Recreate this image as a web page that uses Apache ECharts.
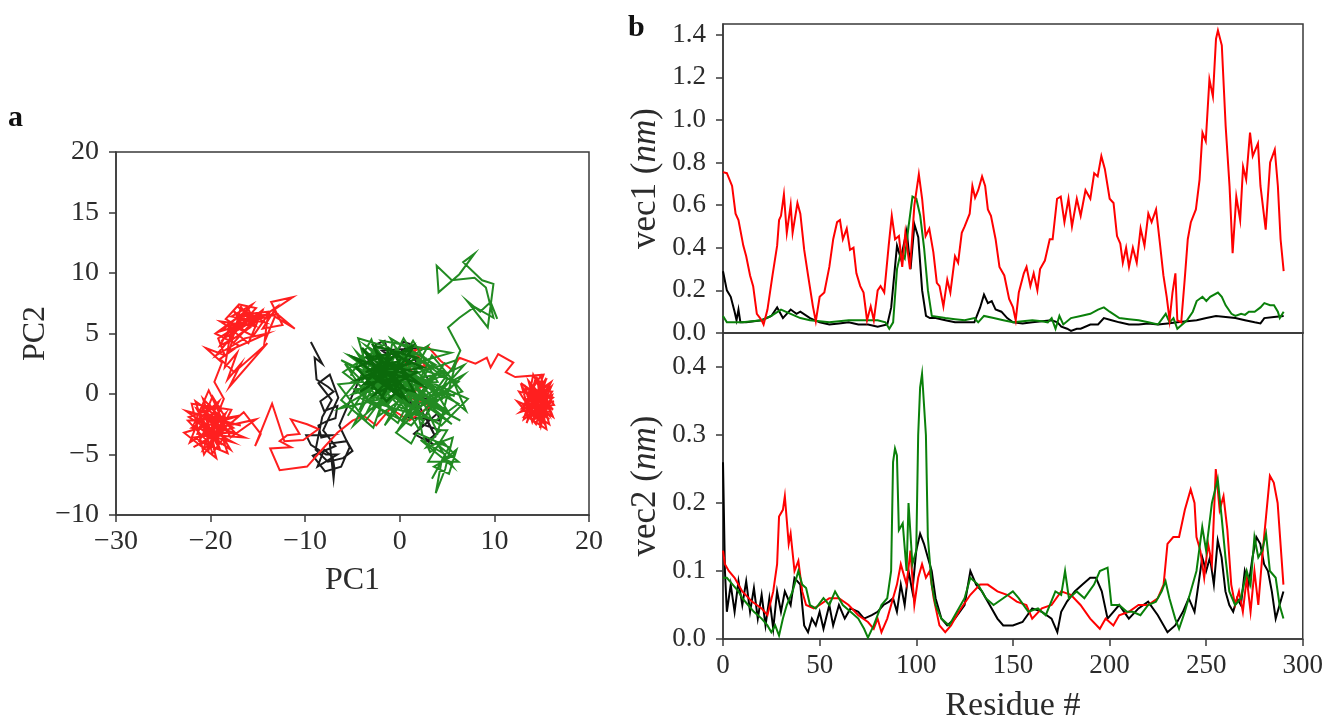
<!DOCTYPE html>
<html>
<head>
<meta charset="utf-8">
<script src="https://cdn.jsdelivr.net/npm/echarts@6/dist/echarts.min.js"></script>
<style>
  html, body { margin: 0; padding: 0; background: #fff; }
  #main { width: 1326px; height: 724px; }
</style>
</head>
<body>
<div id="main"></div>
<script>
// panel a : PC1 / PC2 trajectories, [pc1, pc2]
const pcaRed = [
  [15.0,-0.7],[13.8,0.9],[15.9,-1.4],[14.2,-2.1],[16.1,0.2],[13.1,0.4],[15.4,-2.6],[14.6,1.2],[16.3,-0.9],[12.9,-1.2],
  [15.2,0.8],[14.0,-1.0],[15.8,-2.1],[13.5,-0.2],[14.9,1.5],[16.0,-1.8],[12.4,-0.6],[14.4,-2.5],[15.6,0.5],[13.2,-1.8],
  [15.1,-1.2],[14.3,0.3],[16.2,-0.3],[13.7,-2.0],[15.5,-2.9],[14.8,-0.2],[12.8,0.9],[15.7,-1.0],[14.1,1.6],[13.4,-1.3],
  [16.0,0.6],[14.7,-1.7],[15.3,1.1],[13.9,-0.5],[14.5,-1.4],[15.9,0.9],[13.0,-0.9],[15.2,-2.4],[14.0,0.6],[16.2,-1.3],
  [13.6,1.1],[14.9,-2.7],[15.6,-0.4],[12.6,0.2],[14.3,-1.9],[16.0,1.0],[13.3,-0.5],[15.0,-1.6],[14.6,0.9],[15.8,-2.5],
  [13.9,-1.5],[16.3,-0.6],[12.7,-1.5],[15.4,0.2],[14.2,-0.1],[15.1,-2.2],[13.5,0.5],[15.9,-1.1],[14.4,1.4],[13.1,-2.1],
  [15.3,-0.9],[14.8,-2.8],[16.1,-0.1],[13.8,-1.1],[15.5,1.3],[14.0,-2.3],[12.9,0.6],[15.7,-1.7],[14.5,0.2],[13.4,-2.4],
  [15.0,0.5],[16.2,-1.9],[14.1,-0.8],[15.2,1.6],[12.2,1.4],
  [11.2,1.8],[12.0,2.6],[10.4,3.3],[9.6,2.2],[9.2,3.0],[8.0,2.5],[6.3,3.0],[5.5,2.0],[4.3,2.75],[3.0,3.9],
  [1.5,3.6],[2.8,2.2],[0.5,2.8],[2.3,0.6],[0.8,-0.2],[3.2,-1.0],[1.0,-2.2],[-1.0,-1.2],[-2.5,-2.6],[-3.8,-1.8],
  [-5.0,-2.2],[-6.6,-3.2],[-8.0,-4.4],[-9.8,-6.0],[-12.7,-6.3],[-13.7,-4.5],[-11.5,-4.4],[-12.7,-3.9],[-11.9,-3.4],[-10.6,-3.3],
  [-11.5,-2.1],[-9.8,-2.5],[-8.6,-2.9],[-10.2,-3.8],[-12.2,-3.9],[-13.5,-0.8],[-15.3,-4.3],[-14.7,-3.3],[-16.5,-1.5],
  [-18.0,-2.5],[-21.5,-1.2],[-19.0,-4.6],[-20.8,-0.4],[-17.3,-3.3],[-22.0,-2.8],[-19.6,-1.5],[-18.2,-4.9],[-21.2,-3.9],[-20.1,-2.2],
  [-17.0,-1.8],[-22.8,-3.2],[-19.4,-5.3],[-20.6,-1.6],[-18.6,-3.0],[-21.8,-4.4],[-19.9,-3.5],[-17.6,-4.0],[-20.9,-2.6],[-22.3,-1.9],
  [-18.9,-1.0],[-20.3,-4.8],[-19.2,-2.7],[-16.4,-3.6],[-21.4,-3.3],[-19.8,-0.2],[-18.4,-2.0],[-20.7,-5.0],[-22.0,-0.8],[-17.8,-1.3],
  [-19.5,-3.9],[-21.0,-2.0],[-18.8,-4.2],[-20.4,-3.0],[-15.2,-2.1],[-17.9,-3.6],[-20.2,0.3],[-21.7,-2.4],[-19.1,-0.6],
  [-21.0,-3.6],[-18.4,-1.6],[-20.0,-4.2],[-22.4,-2.2],[-19.0,-2.0],[-20.6,-3.4],[-17.6,-2.8],[-21.6,-0.6],[-19.8,-4.9],[-18.6,-3.6],
  [-20.8,-1.2],[-22.2,-4.0],[-19.4,-2.6],[-17.9,-4.6],[-21.2,-2.8],[-20.0,-1.0],[-18.2,-3.2],[-21.8,-3.6],[-19.6,-4.4],[-20.4,-2.0],
  [-16.8,-2.6],[-22.6,-1.4],[-19.0,-3.4],[-20.8,-4.6],[-18.6,-0.4],
  [-19.6,1.0],[-18.8,2.6],[-20.5,3.8],[-18.5,3.2],[-19.2,4.6],[-17.2,5.6],[-18.9,5.2],[-16.4,6.8],[-18.1,4.3],[-15.8,5.5],
  [-17.6,6.9],[-16.9,6.1],[-14.8,6.3],[-16.3,5.2],[-18.4,6.2],[-17.0,7.4],[-15.2,7.1],[-16.6,5.9],[-13.9,6.6],[-15.5,4.8],
  [-17.8,5.7],[-19.0,4.0],[-17.3,4.7],[-15.0,6.1],[-13.0,7.2],[-14.5,5.4],[-12.4,5.7],[-13.6,7.6],[-11.3,8.0],[-13.4,6.9],
  [-11.1,5.4],[-13.2,6.4],[-14.3,4.3],[-13.9,6.8],[-16.2,6.6],[-17.9,5.0],[-18.5,2.2],[-17.2,3.4],[-18.2,1.2],[-16.8,2.5],
  [-18.0,0.6],[-14.0,4.2],[-17.5,1.8],[-19.0,2.9],[-17.0,4.0],[-19.5,5.0],[-16.0,7.0],[-15.5,6.2],[-17.1,7.2],[-14.2,5.9],
  [-17.8,6.4],[-15.6,7.4],[-18.6,4.6],[-16.0,5.8],[-14.4,7.0],[-17.4,5.2],[-19.0,6.0],[-15.2,5.6],[-16.8,7.2],[-18.0,3.6],
  [-14.0,5.0],[-16.4,4.6],[-19.4,3.2],[-15.8,6.6],[-17.2,6.4],[-12.8,6.6],[-18.2,5.6],[-16.0,4.2],[-14.6,6.8],[-17.6,4.2]
];
const pcaBlack = [
  [-9.4,4.3],[-8.2,2.5],[-9.0,3.0],[-8.8,1.2],[-7.6,0.6],[-7.0,0.2],[-8.4,-0.6],[-8.0,-1.4],[-6.6,-1.0],[-6.8,-2.0],
  [-7.6,-2.2],[-8.6,-2.6],[-8.3,-3.6],[-7.2,-3.4],[-9.9,-3.4],[-9.4,-4.2],[-7.8,-5.0],[-6.6,-5.0],[-8.7,-6.0],[-8.0,-4.6],
  [-7.1,-5.2],[-6.9,-6.2],[-7.0,-7.0],[-7.4,-4.1],[-5.6,-3.9],[-5.0,-4.7],[-6.0,-5.3],[-7.6,-5.6],[-8.9,-4.6],[-8.2,-1.9],
  [-7.2,-0.5],[-8.6,0.9],[-7.4,1.6],[-6.5,-0.3],[-8.1,-3.0],[-6.8,-4.3],[-9.2,-5.1],[-7.9,-6.4],[-6.2,-6.0],[-5.3,-4.4],
  [-6.4,-2.6],[-5.8,-1.5],[-4.5,0.8],[-2.5,4.1],[-1.6,4.4],[-1.0,2.8],[0.0,3.9],[0.4,4.3],[1.2,4.1],[-0.8,3.0],
  [-1.9,3.6],[1.8,3.8],[0.6,2.4],[2.3,2.2],[1.0,3.5],[3.1,1.1],[2.0,-0.2],[3.5,-0.6],[2.3,-2.5],[4.3,-3.0],
  [3.0,-3.8],[2.6,-3.6],[3.6,-4.2],[1.5,-3.3],[4.0,-1.6],[4.2,-2.2],[0.7,-1.9],[1.9,-0.3],[-1.5,1.2],[-3.0,2.5],
  [-0.4,0.5],[2.8,-2.0],[3.8,-3.6],[2.2,-1.2],[0.4,1.6]
];
const pcaGreen = [
  [-5.2,1.5],[-3.0,4.5],[-1.5,1.0],[-4.2,-1.2],[-2.0,3.2],[0.5,0.2],[-3.5,2.0],[-6.2,-0.5],[-2.8,-2.8],[-0.5,2.5],
  [1.8,-1.5],[-4.6,3.5],[-1.2,-0.8],[2.5,2.8],[-3.8,0.2],[-5.8,2.5],[0.2,-2.2],[3.5,1.5],[-2.2,-1.8],[-0.8,4.2],
  [4.5,-0.5],[1.2,1.8],[-4.9,-2.6],[-1.8,2.2],[2.0,-2.9],[5.0,1.2],[0.8,3.6],[-3.2,-0.6],[3.8,-2.2],[6.2,-0.8],
  [2.8,0.6],[-0.2,-3.0],[4.8,2.6],[1.5,-0.6],[6.8,1.6],[3.2,-1.2],[5.5,-2.5],[0.0,1.2],[-2.5,3.8],[-4.0,1.0],
  [-6.5,0.8],[-3.6,-2.2],[-1.0,0.5],[1.0,-1.8],[4.2,0.4],[7.0,-1.4],[5.8,0.8],[2.2,3.3],[-1.4,3.0],[-5.5,-1.8],
  [-2.6,1.6],[0.6,-0.8],[3.0,2.0],[6.0,2.8],[4.0,-3.2],[1.6,0.8],[-0.6,-1.5],[-3.0,0.8],[-4.4,4.6],[-1.8,4.0],
  [-6.0,1.8],[-2.4,-0.4],[1.4,4.4],[4.0,1.0],[-4.8,0.4],[-0.2,-2.4],[3.4,3.2],[6.6,0.2],[2.0,-1.0],[-5.4,3.2],
  [-1.2,2.0],[5.2,-1.6],[0.4,4.6],[-3.4,-1.4],[2.6,1.2],[7.2,-0.4],[4.4,-2.6],[-0.8,-0.2],[-6.4,-1.2],[1.8,2.6],
  [5.4,3.4],[-2.0,4.4],[3.6,-0.4],[0.2,-1.2],[-4.4,2.6],[6.4,-2.2],[1.0,0.0],[-1.6,-2.6],[3.0,4.0],[-5.0,0.0],
  [4.8,1.8],[-0.4,3.6],[2.4,-2.2],[-3.0,3.2],[5.8,-0.2],[0.6,1.8],[-2.8,-1.2],[6.8,2.4],[1.2,-2.6],[-4.0,-0.4],
  [3.8,2.4],[-1.0,4.6],[2.0,0.4],[4.6,-1.2],[-6.2,2.8],[0.8,-0.4],[5.0,0.0],[-3.6,4.0],[2.8,-0.8],[6.2,1.0],
  [0.9,2.4],[2.4,-3.4],[3.2,-4.8],[4.6,-4.0],[5.8,-5.0],[3.6,-6.0],[5.2,-6.6],[6.0,-4.6],[4.4,-5.6],[3.8,-8.2],
  [4.8,-6.2],[5.6,-3.6],[2.8,-4.4],[4.2,-3.0],[5.0,-3.0],[3.0,-5.6],[6.2,-5.6],[4.0,-4.2],[5.6,-6.0],[2.2,-3.8],
  [4.8,-5.0],[3.4,-7.0],[5.2,-4.4],[1.8,-3.2],[1.2,-4.1],[-0.4,-3.2],[3.5,0.0],[5.6,2.2],[6.4,3.6],[5.1,5.5],
  [6.3,6.3],[7.9,7.2],[9.9,6.3],[9.1,8.8],[7.9,9.6],[5.5,9.4],[3.9,10.6],[4.1,8.4],[6.3,9.9],[7.9,11.6],
  [6.7,10.9],[8.7,9.4],[9.9,9.1],[9.3,5.5],[7.1,7.7],[8.5,6.8],[9.6,7.6],[10.3,6.2]
];
const pcaGreenCore = [
  [-3.0,2.5],[-1.0,0.5],[-2.5,3.5],[0.5,1.5],[-3.8,0.8],[-0.5,3.2],[1.5,0.2],[-2.0,1.0],[-1.2,3.8],[1.0,2.5],
  [-3.2,1.6],[0.0,-0.2],[-1.6,2.4],[1.8,1.8],[-2.6,0.0],[-0.4,1.8],[1.2,3.6],[-3.5,3.0],[0.3,0.6],[-1.4,-0.6],
  [-4.6,2.2],[-2.2,3.0],[0.8,0.2],[-4.0,3.8],[-1.8,1.4],[-4.2,0.2],[1.8,3.0],[-2.8,4.0],[0.6,-0.4],[-4.8,3.0],
  [2.2,0.8],[-0.8,2.6],[-3.6,1.8],[1.4,4.0],[-2.0,-0.4],[0.0,2.8],[-4.4,1.2],[2.4,2.2],[-1.0,3.4],[-3.0,0.4]
];

// panel b : eigenvector components per residue, [residue, nm]
const vec1Red = [
  [0,0.755],[2,0.75],[4.7,0.69],[6.5,0.56],[8,0.53],[10.5,0.41],[12,0.36],[14,0.27],[15.6,0.22],[17.5,0.09],
  [20,0.06],[21,0.04],[23,0.11],[25.6,0.27],[28,0.41],[29,0.53],[30,0.55],[31.5,0.65],[33,0.47],[35,0.60],
  [36,0.47],[38.5,0.61],[40,0.56],[42,0.39],[44,0.27],[46.5,0.125],[48,0.055],[50,0.17],[52.4,0.19],[55,0.31],
  [57,0.44],[59,0.52],[60.5,0.53],[62,0.44],[64,0.49],[65.7,0.39],[67.5,0.40],[69,0.28],[71,0.22],[72.7,0.19],
  [74.5,0.06],[76.4,0.125],[78,0.06],[80,0.20],[81.5,0.22],[83.4,0.19],[85.7,0.41],[87.3,0.55],[89,0.44],[91,0.455],
  [92.7,0.31],[94.3,0.47],[96.7,0.30],[99,0.60],[101.3,0.745],[103,0.63],[104.8,0.455],[106.7,0.49],[108.8,0.38],[110.6,0.235],
  [112,0.22],[114,0.125],[116,0.25],[117.6,0.19],[120,0.36],[121.6,0.33],[123.5,0.47],[125,0.50],[127.6,0.56],[129,0.69],
  [130.4,0.635],[132,0.67],[134,0.735],[135.6,0.69],[137,0.58],[138.6,0.55],[141,0.44],[143,0.31],[145.5,0.27],[148,0.16],
  [150,0.12],[151.4,0.06],[153,0.19],[155.6,0.28],[157,0.31],[159,0.22],[160.7,0.28],[162.6,0.20],[164,0.30],[166.5,0.34],
  [169,0.44],[170.5,0.44],[172.8,0.63],[174.7,0.64],[176.6,0.52],[178.7,0.63],[180.5,0.50],[183,0.63],[185,0.55],[187.5,0.67],
  [190,0.63],[192,0.75],[193.8,0.735],[195.7,0.83],[197.5,0.77],[200,0.63],[202,0.61],[203.8,0.455],[205.5,0.42],[206.8,0.33],
  [208.5,0.40],[210,0.31],[212,0.40],[214,0.33],[216,0.49],[218,0.41],[220,0.56],[221.7,0.52],[224,0.58],[226,0.42],
  [227.8,0.27],[229.5,0.17],[231,0.06],[232.5,0.19],[234,0.28],[235,0.06],[237,0.05],[238.8,0.25],[240.4,0.44],[242,0.52],
  [244.6,0.58],[246.5,0.72],[248,0.94],[249.7,0.90],[251.6,1.19],[253.4,1.11],[255,1.38],[256,1.42],[258,1.35],[260,0.97],
  [262,0.69],[263.6,0.375],[265.5,0.64],[267.5,0.53],[269,0.78],[270.6,0.72],[272.6,0.94],[274,0.83],[276.7,0.89],[278,0.69],
  [280.7,0.485],[283,0.80],[285.4,0.86],[287,0.69],[288.4,0.44],[290,0.29]
];
const vec1Black = [
  [0,0.29],[2,0.2],[4,0.17],[6,0.1],[7,0.06],[8,0.11],[9,0.05],[12,0.05],[16,0.055],[20,0.06],
  [25,0.08],[28,0.12],[31,0.07],[35,0.11],[38,0.09],[40,0.1],[45,0.07],[50,0.05],[55,0.04],[60,0.045],
  [65,0.05],[70,0.04],[75,0.04],[80,0.03],[85,0.04],[87,0.12],[90,0.41],[92,0.35],[95,0.48],[97,0.30],
  [99,0.51],[101,0.45],[103,0.2],[105,0.08],[107,0.07],[110,0.07],[115,0.06],[120,0.05],[125,0.05],[130,0.05],
  [133,0.12],[135,0.18],[137,0.14],[139,0.15],[141,0.11],[144,0.1],[147,0.07],[150,0.05],[155,0.045],[160,0.05],
  [165,0.055],[170,0.06],[173,0.05],[175,0.03],[178,0.02],[180,0.01],[183,0.02],[185,0.02],[190,0.04],[194,0.04],
  [197,0.07],[201,0.06],[205,0.05],[210,0.04],[215,0.04],[220,0.045],[225,0.04],[230,0.045],[235,0.05],[240,0.055],
  [245,0.06],[250,0.07],[255,0.08],[260,0.075],[265,0.07],[270,0.06],[275,0.05],[278,0.045],[280,0.07],[285,0.075],[290,0.08]
];
const vec1Green = [
  [0,0.08],[2,0.05],[6,0.05],[10,0.05],[15,0.055],[20,0.06],[25,0.08],[30,0.11],[35,0.09],[40,0.07],
  [45,0.06],[50,0.055],[55,0.05],[60,0.055],[65,0.06],[70,0.06],[75,0.06],[80,0.06],[84,0.05],[86,0.02],
  [88,0.05],[90,0.3],[92,0.38],[94,0.35],[96,0.5],[98,0.64],[100,0.63],[102,0.55],[104,0.4],[106,0.2],
  [108,0.08],[115,0.07],[120,0.065],[125,0.06],[130,0.07],[132,0.05],[135,0.08],[140,0.07],[145,0.06],[150,0.05],
  [155,0.055],[160,0.06],[165,0.055],[168,0.05],[170,0.07],[172,0.02],[174,0.08],[176,0.04],[180,0.07],[185,0.08],
  [190,0.09],[194,0.11],[197,0.12],[200,0.1],[205,0.07],[210,0.065],[215,0.06],[220,0.05],[225,0.04],[229,0.09],
  [231,0.05],[233,0.07],[235,0.02],[240,0.06],[243,0.1],[245,0.15],[248,0.17],[250,0.15],[252,0.17],[256,0.19],
  [258,0.17],[260,0.13],[263,0.09],[265,0.08],[268,0.09],[270,0.085],[272,0.1],[275,0.1],[278,0.12],[280,0.14],
  [283,0.13],[285,0.13],[287,0.1],[288,0.07],[290,0.1]
];
const vec2Red = [
  [0,0.13],[1,0.11],[3,0.1],[6,0.09],[10,0.07],[15,0.055],[20,0.045],[23,0.035],[26,0.07],[28,0.11],
  [29,0.18],[31,0.19],[32,0.21],[34,0.14],[35,0.155],[37,0.10],[39,0.115],[41,0.07],[43,0.05],[47,0.045],
  [50,0.05],[55,0.06],[60,0.06],[65,0.05],[70,0.035],[75,0.025],[78,0.015],[80,0.03],[82,0.01],[85,0.03],
  [87,0.05],[90,0.08],[92,0.11],[95,0.08],[97,0.13],[99,0.05],[101,0.09],[103,0.11],[105,0.09],[107,0.1],
  [109,0.06],[112,0.02],[115,0.01],[118,0.02],[122,0.04],[128,0.065],[133,0.08],[137,0.08],[142,0.07],[147,0.065],
  [152,0.055],[157,0.05],[160,0.03],[165,0.045],[170,0.05],[175,0.07],[180,0.065],[185,0.05],[190,0.03],[195,0.015],
  [198,0.03],[202,0.02],[205,0.035],[210,0.04],[215,0.05],[220,0.05],[225,0.06],[228,0.08],[230,0.14],[233,0.15],
  [236,0.15],[239,0.19],[242,0.22],[244,0.2],[245,0.15],[247,0.13],[249,0.09],[251,0.14],[253,0.11],[255,0.25],
  [257,0.19],[259,0.21],[261,0.16],[263,0.08],[265,0.05],[267,0.07],[269,0.04],[271,0.09],[273,0.04],[275,0.1],
  [277,0.05],[279,0.12],[281,0.18],[283,0.24],[285,0.23],[287,0.2],[289,0.12],[290,0.08]
];
const vec2Black = [
  [0,0.26],[1,0.1],[2,0.04],[4,0.08],[6,0.04],[8,0.085],[10,0.05],[12,0.085],[14,0.04],[16,0.075],
  [18,0.03],[20,0.065],[22,0.02],[24,0.06],[26,0.015],[28,0.07],[30,0.04],[32,0.07],[35,0.05],[37,0.09],
  [40,0.08],[42,0.02],[44,0.01],[46,0.03],[48,0.02],[50,0.04],[52,0.015],[55,0.05],[57,0.02],[60,0.05],
  [63,0.03],[66,0.045],[70,0.04],[73,0.03],[77,0.035],[80,0.04],[83,0.05],[86,0.055],[88,0.06],[90,0.04],
  [92,0.08],[94,0.05],[96,0.1],[98,0.07],[100,0.13],[102,0.155],[104,0.14],[106,0.12],[108,0.1],[110,0.06],
  [113,0.03],[116,0.02],[120,0.03],[125,0.05],[128,0.1],[131,0.08],[134,0.07],[138,0.05],[142,0.03],[145,0.02],
  [150,0.02],[155,0.025],[160,0.045],[165,0.04],[170,0.03],[173,0.01],[175,0.04],[178,0.055],[182,0.07],[186,0.08],
  [190,0.09],[193,0.09],[196,0.07],[199,0.03],[202,0.04],[205,0.05],[210,0.03],[215,0.045],[220,0.055],[225,0.035],
  [230,0.01],[234,0.02],[238,0.04],[241,0.06],[244,0.04],[246,0.08],[248,0.12],[250,0.1],[252,0.12],[254,0.08],
  [256,0.145],[258,0.12],[260,0.07],[262,0.05],[264,0.04],[266,0.06],[268,0.05],[270,0.1],[272,0.08],[274,0.12],
  [276,0.15],[278,0.14],[280,0.11],[282,0.1],[284,0.07],[286,0.03],[288,0.05],[290,0.07]
];
const vec2Green = [
  [0,0.09],[2,0.09],[5,0.08],[8,0.07],[10,0.06],[13,0.05],[16,0.04],[20,0.03],[23,0.02],[25,0.01],
  [27,0.02],[29,0.005],[31,0.03],[33,0.05],[36,0.07],[39,0.1],[41,0.08],[43,0.075],[45,0.05],[48,0.045],
  [52,0.06],[55,0.05],[58,0.07],[62,0.05],[66,0.04],[70,0.03],[73,0.015],[75,0.002],[78,0.02],[82,0.05],
  [85,0.06],[87,0.1],[88,0.26],[89,0.28],[90,0.27],[91,0.16],[93,0.17],[95,0.1],[96,0.2],[98,0.11],
  [100,0.13],[101,0.3],[102,0.37],[103,0.39],[105,0.3],[106,0.15],[108,0.08],[110,0.05],[113,0.03],[117,0.02],
  [120,0.035],[125,0.06],[128,0.09],[132,0.08],[136,0.06],[140,0.05],[145,0.06],[150,0.07],[153,0.06],[158,0.04],
  [163,0.045],[167,0.035],[172,0.07],[175,0.065],[177,0.1],[179,0.06],[183,0.07],[187,0.06],[192,0.08],[195,0.1],
  [199,0.105],[201,0.05],[205,0.05],[209,0.04],[212,0.04],[216,0.035],[220,0.05],[224,0.055],[227,0.07],[229,0.085],
  [231,0.06],[234,0.03],[236,0.015],[239,0.04],[242,0.07],[245,0.1],[248,0.165],[250,0.13],[253,0.2],[256,0.235],
  [258,0.18],[260,0.12],[262,0.07],[265,0.05],[268,0.06],[271,0.1],[273,0.08],[275,0.15],[277,0.12],[279,0.13],
  [281,0.155],[283,0.1],[286,0.09],[288,0.05],[290,0.03]
];

const FONT = 'Liberation Serif';
const INK = '#2b2b2b';
const AXIS = '#3a3a3a';
const minus = v => String(v).replace('-', '\u2212');

function gridBox(left, top, width, height) {
  return { left, top, width, height, show: true, borderColor: AXIS, borderWidth: 1.5, backgroundColor: 'transparent', containLabel: false };
}
function lineAxis(extra) {
  return Object.assign({
    type: 'value',
    splitLine: { show: false },
    axisLine: { show: true, onZero: false, lineStyle: { color: AXIS, width: 1.5 } },
    axisTick: { show: true, inside: false, length: 7, lineStyle: { color: AXIS, width: 1.5 } },
    nameTextStyle: { fontFamily: FONT, fontSize: 32, color: INK }
  }, extra);
}
function nmName(size) {
  return { fontFamily: FONT, fontSize: size, color: INK,
    rich: { i: { fontFamily: FONT, fontSize: size, color: INK, fontStyle: 'italic' } } };
}
function trace(data, color, xi, yi, width, z) {
  return {
    type: 'line', data, xAxisIndex: xi, yAxisIndex: yi,
    showSymbol: false, symbol: 'none', silent: true, animation: false, z: z || 2,
    lineStyle: { color, width: width || 2, join: 'miter' }
  };
}

const chart = echarts.init(document.getElementById('main'), null, { renderer: 'canvas' });
chart.setOption({
  backgroundColor: '#fff',
  animation: false,
  grid: [
    gridBox(116, 152, 473, 363),
    gridBox(723, 24, 580, 309),
    gridBox(723, 333, 580, 309)
  ],
  xAxis: [
    lineAxis({ gridIndex: 0, min: -30, max: 20, interval: 10, name: 'PC1', nameLocation: 'middle', nameGap: 50,
      axisLabel: { fontFamily: FONT, fontSize: 28, color: INK, margin: 13, formatter: minus } }),
    lineAxis({ gridIndex: 1, min: 0, max: 300, interval: 50, axisTick: { show: false }, axisLabel: { show: false } }),
    lineAxis({ gridIndex: 2, min: 0, max: 300, interval: 50, name: 'Residue #', nameLocation: 'middle', nameGap: 50,
      nameTextStyle: { fontFamily: FONT, fontSize: 34, color: INK },
      axisLabel: { fontFamily: FONT, fontSize: 27, color: INK, margin: 13 } })
  ],
  yAxis: [
    lineAxis({ gridIndex: 0, min: -10, max: 20, interval: 5, name: 'PC2', nameLocation: 'middle', nameGap: 56,
      axisLabel: { fontFamily: FONT, fontSize: 28, color: INK, margin: 17, formatter: minus } }),
    lineAxis({ gridIndex: 1, min: 0, max: 1.45, interval: 0.2, name: 'vec1 ({i|nm})', nameLocation: 'middle', nameGap: 60,
      nameTextStyle: nmName(35),
      axisLabel: { fontFamily: FONT, fontSize: 27, color: INK, margin: 17, formatter: v => v.toFixed(1),
        showMaxLabel: false } }),
    lineAxis({ gridIndex: 2, min: 0, max: 0.45, interval: 0.1, name: 'vec2 ({i|nm})', nameLocation: 'middle', nameGap: 60,
      nameTextStyle: nmName(35),
      axisLabel: { fontFamily: FONT, fontSize: 27, color: INK, margin: 17, formatter: v => v.toFixed(1),
        showMaxLabel: false } })
  ],
  graphic: [
    { type: 'text', left: 8, top: 103, style: { text: 'a', fontFamily: FONT, fontSize: 30, fontWeight: 'bold', fill: '#111' } },
    { type: 'text', left: 628, top: 13, style: { text: 'b', fontFamily: FONT, fontSize: 30, fontWeight: 'bold', fill: '#111' } }
  ],
  series: [
    trace(pcaBlack, '#1c1c1c', 0, 0, 2, 2),
    trace(pcaRed, '#ff1f1f', 0, 0, 2, 3),
    trace(pcaGreen, '#228b22', 0, 0, 2, 4),
    trace(pcaGreenCore, '#0b6a0b', 0, 0, 2.5, 5),
    trace(vec1Black, '#000000', 1, 1, 2, 2),
    trace(vec1Green, '#0a800a', 1, 1, 2, 3),
    trace(vec1Red, '#ff0000', 1, 1, 2, 4),
    trace(vec2Black, '#000000', 2, 2, 2, 2),
    trace(vec2Red, '#ff0000', 2, 2, 2, 3),
    trace(vec2Green, '#0a800a', 2, 2, 2, 4)
  ]
});
</script>
</body>
</html>
